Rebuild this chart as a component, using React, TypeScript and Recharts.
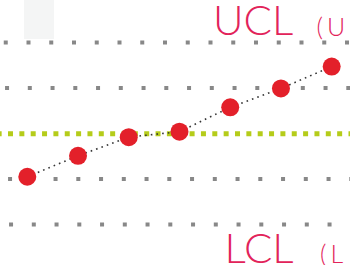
import React from 'react';
import { ComposedChart, Line, XAxis, YAxis, ReferenceLine, ReferenceArea } from 'recharts';

const sampleIndex = [0, 1, 2, 3, 4, 5, 6];
const sampleValues = [-0.95, -0.49, -0.08, 0.04, 0.575, 0.99, 1.47];
const gridLevels = [2, 1, -1, -2];
const gridOffsets = [19, 17.7, 14.7, 13.7];
const centerLevel = 0;
const upperLabel = 'UCL';
const upperSub = '(U';
const lowerLabel = 'LCL';
const lowerSub = '(L';

const data = sampleIndex.map((x, i) => ({ x, v: sampleValues[i] }));

const TEXT_COLOR = '#e2235a';
const FONT = 'Lato, "Open Sans", sans-serif';

const upperLabelRender = (props: any) => {
  const vb = props.viewBox || {};
  const x0 = vb.x ?? 0;
  const y0 = vb.y ?? 0;
  return (
    <g>
      <text x={x0 + 213} y={y0 - 7.3} fontSize={42} fontFamily={FONT} fontWeight={300} fill={TEXT_COLOR}>{upperLabel}</text>
      <text x={x0 + 316.5} y={y0 - 6.8} fontSize={25} letterSpacing={4} fontFamily={FONT} fontWeight={300} fill={TEXT_COLOR}>{upperSub}</text>
    </g>
  );
};

const lowerLabelRender = (props: any) => {
  const vb = props.viewBox || {};
  const x0 = vb.x ?? 0;
  const y0 = vb.y ?? 0;
  return (
    <g>
      <text x={x0 + 224.5} y={y0 + 38.5} fontSize={42} fontFamily={FONT} fontWeight={300} fill={TEXT_COLOR}>{lowerLabel}</text>
      <text x={x0 + 320} y={y0 + 38.5} fontSize={25} letterSpacing={4} fontFamily={FONT} fontWeight={300} fill={TEXT_COLOR}>{lowerSub}</text>
    </g>
  );
};

export default function App() {
  return (
    <div style={{ position: 'absolute', left: 0, top: 0, width: 350, height: 265, background: '#fff' }}>
      <ComposedChart width={350} height={265} data={data} margin={{ top: 0, right: 0, bottom: 0, left: 0 }}>
        <XAxis dataKey="x" type="number" domain={[-0.538, 6.361]} hide allowDataOverflow />
        <YAxis type="number" domain={[-2.888, 2.932]} hide allowDataOverflow />
        <ReferenceArea x1={-0.065} x2={0.526} y1={2.076} y2={2.932} fill="#f4f5f5" fillOpacity={1} stroke="none" ifOverflow="hidden" />
        {gridLevels.map((lv, i) => (
          <ReferenceLine
            key={lv}
            y={lv}
            stroke="#888888"
            strokeWidth={4}
            strokeDasharray="4 18.75"
            strokeDashoffset={gridOffsets[i]}
            label={lv === 2 ? upperLabelRender : lv === -2 ? lowerLabelRender : undefined}
          />
        ))}
        <ReferenceLine y={centerLevel - 0.006} stroke="#b5cc1a" strokeWidth={5} strokeDasharray="5 6.35" strokeDashoffset={3.35} />
        <Line
          dataKey="v"
          type="linear"
          stroke="#333333"
          strokeWidth={1.6}
          strokeDasharray="1.6 4.1"
          dot={{ r: 9, fill: '#e3202a', stroke: 'none', fillOpacity: 1 }}
          activeDot={false}
          isAnimationActive={false}
        />
      </ComposedChart>
    </div>
  );
}
